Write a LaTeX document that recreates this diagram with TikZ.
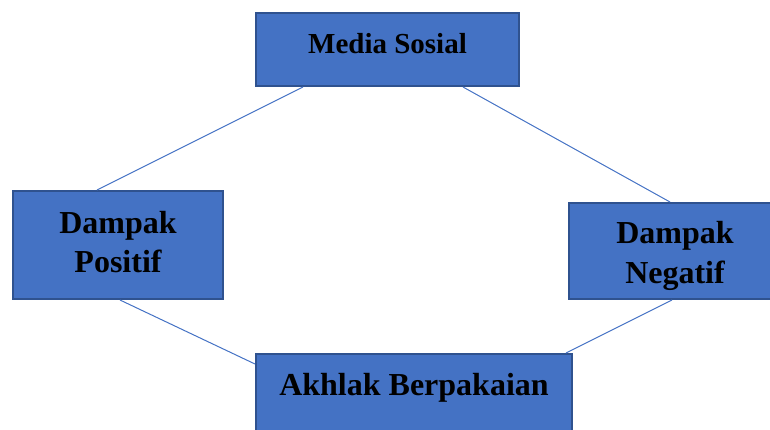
\documentclass[tikz,border=0pt]{standalone}
\usepackage{fontspec}
\setmainfont{Liberation Serif}

\definecolor{boxblue}{HTML}{4472C4}
\definecolor{boxedge}{HTML}{2F528F}

\tikzset{
  topic/.style={draw=boxedge, fill=boxblue, line width=1pt, inner ysep=0pt,
    align=center, anchor=base, font=\fontsize{16}{19.75}\selectfont\bfseries},
  link/.style={draw=boxblue, line width=0.5pt}
}

\begin{document}
\begin{tikzpicture}[x=0.5pt, y=-0.5pt]
        \useasboundingbox (0,0) rectangle (770,429);
        \clip (0,0) rectangle (770,429);

        % the four boxes, placed at the baseline of their last line
        \node[topic, minimum width=131.5pt, text height=20.15pt, text depth=16.35pt,
          font=\fontsize{14.5}{18}\selectfont\bfseries] at (387.5,53.3) (media) {Media Sosial};
        \node[topic, minimum width=105pt, text height=40.85pt, text depth=13.15pt]
          at (118,272.7) (positif) {Dampak\\Positif};
        \node[topic, minimum width=106pt, text height=40.15pt, text depth=7.85pt]
          at (675,283.3) (negatif) {Dampak\\Negatif};
        \node[topic, minimum width=158pt, text height=20.5pt, text depth=22.5pt]
          at (414,395) (akhlak) {Akhlak Berpakaian};

        \draw[link] ([xshift=-42.25pt]media.south) -- ([xshift=-10.5pt]positif.north);
        \draw[link] ([xshift=37.75pt]media.south) -- ([xshift=-2.5pt]negatif.north);
        \draw[link] ([xshift=1pt]positif.south) -- ([yshift=-5.5pt]akhlak.north west);
        \draw[link] ([xshift=-1.5pt]negatif.south) -- ([xshift=-3.5pt]akhlak.north east);
        \end{tikzpicture}
\end{document}
